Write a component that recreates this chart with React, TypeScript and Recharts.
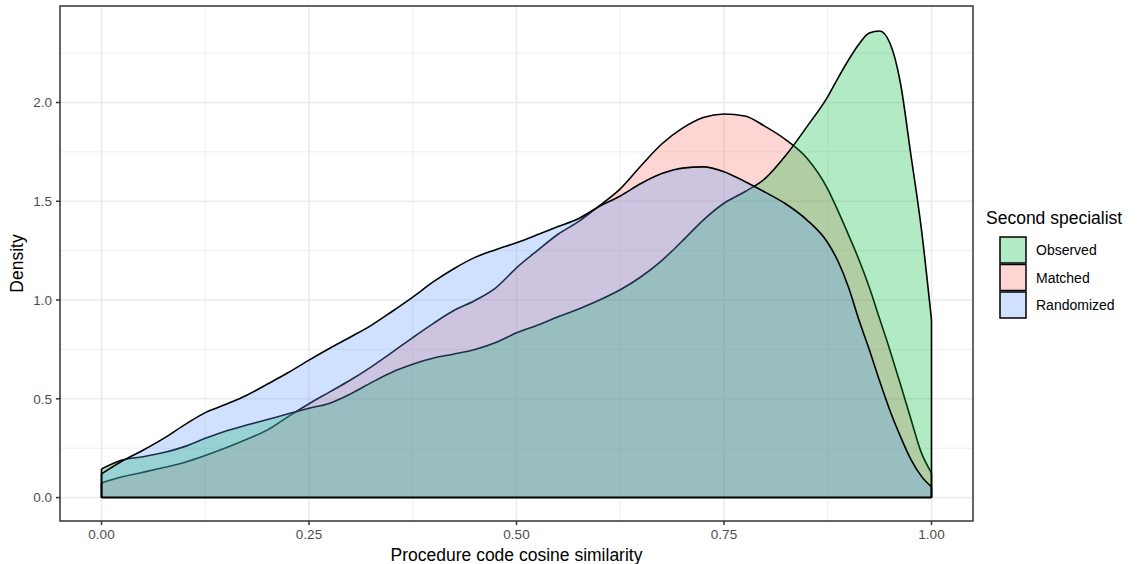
import React from 'react';
import {
  ComposedChart,
  Area,
  XAxis,
  YAxis,
  CartesianGrid,
  ReferenceLine,
  ReferenceArea,
  Legend,
} from 'recharts';

const FONT = '"Liberation Sans", Arial, Helvetica, sans-serif';

// x grid of the density estimates
const xs = [
  0, 0.025, 0.05, 0.075, 0.1, 0.125, 0.15, 0.175, 0.2, 0.225, 0.25, 0.275, 0.3, 0.325,
  0.35, 0.375, 0.4, 0.425, 0.45, 0.475, 0.5, 0.525, 0.55, 0.575, 0.6, 0.625, 0.65, 0.675,
  0.7, 0.725, 0.75, 0.775, 0.8, 0.825, 0.85, 0.875, 0.8875, 0.9, 0.9125, 0.925, 0.9375,
  0.95, 0.9625, 0.975, 0.9875, 1.0,
];

const observed = [
  0.145, 0.19, 0.207, 0.228, 0.258, 0.3, 0.337, 0.367, 0.395, 0.424, 0.452, 0.478, 0.525, 0.582,
  0.635, 0.675, 0.707, 0.727, 0.75, 0.785, 0.834, 0.872, 0.915, 0.955, 1.0, 1.052, 1.118, 1.2,
  1.3, 1.405, 1.49, 1.548, 1.617, 1.735, 1.878, 2.03, 2.125, 2.215, 2.295, 2.352, 2.362,
  2.3, 2.1, 1.74, 1.37, 0.9,
];

const matched = [
  0.074, 0.105, 0.128, 0.152, 0.178, 0.213, 0.252, 0.295, 0.343, 0.41, 0.475, 0.535, 0.595, 0.662,
  0.735, 0.81, 0.882, 0.948, 0.998, 1.062, 1.163, 1.25, 1.333, 1.398, 1.478, 1.563, 1.68, 1.79,
  1.87, 1.924, 1.942, 1.932, 1.878, 1.81, 1.718, 1.562, 1.45, 1.33, 1.205, 1.065, 0.905,
  0.745, 0.575, 0.4, 0.23, 0.125,
];

const randomized = [
  0.12, 0.185, 0.24, 0.3, 0.368, 0.43, 0.472, 0.518, 0.575, 0.633, 0.696, 0.756, 0.813, 0.872,
  0.942, 1.015, 1.093, 1.16, 1.216, 1.255, 1.29, 1.33, 1.372, 1.413, 1.475, 1.527, 1.59, 1.64,
  1.668, 1.674, 1.65, 1.6, 1.545, 1.485, 1.405, 1.29, 1.195, 1.065, 0.9, 0.75, 0.59,
  0.44, 0.31, 0.195, 0.11, 0.054,
];

// legend order
const seriesNames = ['Observed', 'Matched', 'Randomized'];
const seriesKeys = ['observed', 'matched', 'randomized'];
const seriesColors = ['#00BA38', '#F8766D', '#619CFF'];
const seriesValues = [observed, matched, randomized];
// drawing order (alphabetical groups: Matched, Observed, Randomized)
const drawOrder = [1, 0, 2];

const xTicks = [0, 0.25, 0.5, 0.75, 1];
const yTicks = [0, 0.5, 1, 1.5, 2];
const xMinor = [0.125, 0.375, 0.625, 0.875];
const yMinor = [0.25, 0.75, 1.25, 1.75, 2.25];
const xDomain = [-0.05, 1.05];
const yDomain = [-0.1185, 2.4885];

const xTitle = 'Procedure code cosine similarity';
const yTitle = 'Density';
const legendTitle = 'Second specialist';

const rows = xs.map((x, i) => ({
  x,
  observed: observed[i],
  matched: matched[i],
  randomized: randomized[i],
}));

const FILL_OPACITY = 0.3;
const TITLE_SIZE = 17.5;

function XTitle(props: any) {
  const vb = props.viewBox || { x: 60, y: 521, width: 913, height: 43 };
  return (
    <text
      x={vb.x + vb.width / 2}
      y={vb.y + 40}
      textAnchor="middle"
      fontSize={TITLE_SIZE}
      fill="#000"
      fontFamily={FONT}
    >
      {xTitle}
    </text>
  );
}

function YTitle(props: any) {
  const vb = props.viewBox || { x: 0, y: 6, width: 60, height: 515 };
  const x = vb.x + 23;
  const y = vb.y + vb.height / 2;
  return (
    <text
      x={x}
      y={y}
      transform={`rotate(-90 ${x} ${y})`}
      textAnchor="middle"
      fontSize={TITLE_SIZE}
      fill="#000"
      fontFamily={FONT}
    >
      {yTitle}
    </text>
  );
}

function LegendContent() {
  return (
    <svg width={152} height={130} style={{ display: 'block', fontFamily: FONT }}>
      <text x={1} y={24} fontSize={TITLE_SIZE} fill="#000">
        {legendTitle}
      </text>
      {seriesNames.map((name, i) => {
        const top = 37 + 27.5 * i;
        return (
          <g key={name}>
            <rect x={15} y={top} width={26} height={26} fill="#fff" />
            <rect
              x={15}
              y={top}
              width={26}
              height={26}
              fill={seriesColors[i]}
              fillOpacity={FILL_OPACITY}
              stroke="#000"
              strokeWidth={1.5}
            />
            <text x={51} y={top + 18} fontSize={14} fill="#000">
              {name}
            </text>
          </g>
        );
      })}
    </svg>
  );
}

export default function App() {
  const x0 = xs[0];
  const x1 = xs[xs.length - 1];
  return (
    <div
      style={{
        position: 'absolute',
        left: 0,
        top: 0,
        width: 1138,
        height: 564,
        background: '#fff',
        overflow: 'hidden',
      }}
    >
      <ComposedChart
        width={1138}
        height={564}
        data={rows}
        margin={{ top: 6, right: 13, bottom: 0, left: 0 }}
        style={{ fontFamily: FONT }}
      >
        <CartesianGrid
          horizontalValues={yMinor}
          verticalValues={xMinor}
          stroke="#EBEBEB"
          strokeWidth={0.85}
        />
        <CartesianGrid
          horizontalValues={yTicks}
          verticalValues={xTicks}
          stroke="#EBEBEB"
          strokeWidth={1.6}
        />
        <XAxis
          type="number"
          dataKey="x"
          domain={xDomain}
          ticks={xTicks}
          interval={0}
          allowDataOverflow
          height={43}
          axisLine={false}
          tickSize={4}
          tickMargin={4}
          tickLine={{ stroke: '#333333', strokeWidth: 1.5 }}
          tick={{ fill: '#4D4D4D', fontSize: 13.5, fontFamily: FONT }}
          tickFormatter={(v: number) => v.toFixed(2)}
          label={<XTitle />}
        />
        <YAxis
          type="number"
          domain={yDomain}
          ticks={yTicks}
          interval={0}
          allowDataOverflow
          width={60}
          axisLine={false}
          tickSize={4}
          tickMargin={4}
          tickLine={{ stroke: '#333333', strokeWidth: 1.5 }}
          tick={{ fill: '#4D4D4D', fontSize: 13.5, fontFamily: FONT }}
          tickFormatter={(v: number) => v.toFixed(1)}
          label={<YTitle />}
        />
        {drawOrder.map((i) => (
          <Area
            key={seriesKeys[i]}
            name={seriesNames[i]}
            type="monotone"
            dataKey={seriesKeys[i]}
            baseValue={0}
            stroke="#000"
            strokeWidth={1.6}
            fill={seriesColors[i]}
            fillOpacity={FILL_OPACITY}
            dot={false}
            activeDot={false}
            isAnimationActive={false}
          />
        ))}
        {seriesValues.map((vals, i) => (
          <ReferenceLine
            key={`l-${i}`}
            segment={[
              { x: x0, y: 0 },
              { x: x0, y: vals[0] },
            ]}
            stroke="#000"
            strokeWidth={1.6}
          />
        ))}
        {seriesValues.map((vals, i) => (
          <ReferenceLine
            key={`r-${i}`}
            segment={[
              { x: x1, y: 0 },
              { x: x1, y: vals[vals.length - 1] },
            ]}
            stroke="#000"
            strokeWidth={1.6}
          />
        ))}
        <ReferenceLine
          segment={[
            { x: x0, y: 0 },
            { x: x1, y: 0 },
          ]}
          stroke="#000"
          strokeWidth={2}
        />
        <ReferenceArea
          x1={xDomain[0]}
          x2={xDomain[1]}
          y1={yDomain[0]}
          y2={yDomain[1]}
          fill="none"
          fillOpacity={0}
          stroke="#333333"
          strokeWidth={1.5}
          ifOverflow="visible"
        />
        <Legend
          layout="vertical"
          align="right"
          verticalAlign="top"
          width={152}
          wrapperStyle={{ left: 985, top: 200, right: undefined, width: 152 }}
          content={<LegendContent />}
        />
      </ComposedChart>
    </div>
  );
}
